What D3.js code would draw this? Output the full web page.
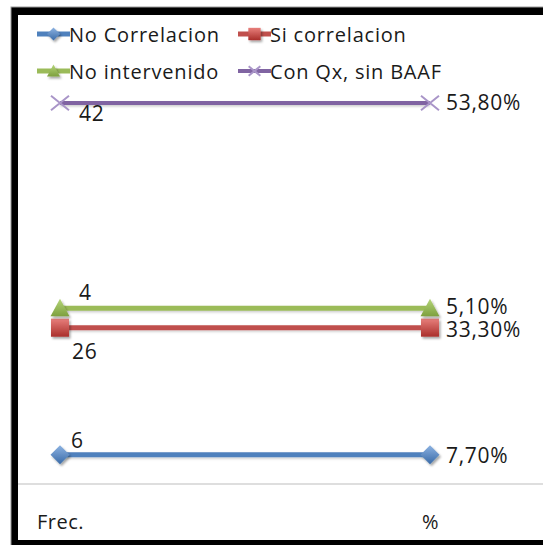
<!DOCTYPE html>
<html>
<head>
<meta charset="utf-8">
<script src="https://cdn.jsdelivr.net/npm/d3@7"></script>
<style>
  html, body { margin: 0; padding: 0; background: #fff; }
  svg { display: block; }
  text { font-family: "Open Sans", sans-serif; fill: #1a1a1a; }
</style>
</head>
<body>
<svg id="chart" width="543" height="545"></svg>
<script>
// ---- data ----
const categories = ["Frec.", "%"];
const seriesNames = ["No Correlacion", "Si correlacion", "No intervenido", "Con Qx, sin BAAF"];
const frecValues = [6, 26, 4, 42];
const pctValues = [7.7, 33.3, 5.1, 53.8];
const frecLabels = ["6", "26", "4", "42"];
const pctLabels = ["7,70%", "33,30%", "5,10%", "53,80%"];

// ---- styles ----
const colors = ["#4F81BD", "#C0504D", "#9BBB59", "#8064A2"];
const markerTypes = ["diamond", "square", "triangle", "x"];
const lineWidths = [5, 5, 5, 4];
// label offsets relative to point [dx, dy] for Frec. and % columns
const frecOffsets = [[11, -7], [12, 31], [19, -8], [19, 18]];
const pctOffsets = [[16, 8], [16, 9], [16, 6], [16, 7]];

const W = 543, H = 545;
const svg = d3.select("#chart");
const defs = svg.append("defs");

// shadows
const f = defs.append("filter").attr("id", "shadow").attr("x", "-30%").attr("y", "-30%").attr("width", "180%").attr("height", "180%");
f.append("feDropShadow").attr("dx", 1.5).attr("dy", 2).attr("stdDeviation", 1.2).attr("flood-color", "#000").attr("flood-opacity", 0.35);
const fl = defs.append("filter").attr("id", "lshadow").attr("filterUnits", "userSpaceOnUse")
  .attr("x", 0).attr("y", 0).attr("width", W).attr("height", H);
fl.append("feDropShadow").attr("dx", 0).attr("dy", 1.5).attr("stdDeviation", 1).attr("flood-color", "#000").attr("flood-opacity", 0.2);

const gradStops = [
  ["#8DB3E2", "#3A6BA8"],
  ["#E87F7C", "#A92F2B"],
  ["#B5D67A", "#7EA03E"],
  ["#A48BC4", "#7B5F9E"]
];
gradStops.forEach((s, i) => {
  const g = defs.append("linearGradient").attr("id", "grad" + i).attr("x1", 0).attr("y1", 0).attr("x2", 0).attr("y2", 1);
  g.append("stop").attr("offset", "0%").attr("stop-color", s[0]);
  g.append("stop").attr("offset", "100%").attr("stop-color", s[1]);
});

// frame
svg.append("rect").attr("x", 11).attr("y", 7).attr("width", 600).attr("height", 600).attr("fill", "#000").attr("stroke", "#999").attr("stroke-width", 1);
svg.append("rect").attr("x", 18).attr("y", 15).attr("width", 600).attr("height", 525).attr("fill", "#fff");

// ---- scales ----
const table = categories.map((c, ci) => {
  const row = { cat: c };
  seriesNames.forEach((s, si) => { row[s] = ci === 0 ? frecValues[si] : pctValues[si]; });
  return row;
});
const stacked = d3.stack().keys(seriesNames).offset(d3.stackOffsetExpand)(table);

const x = d3.scalePoint().domain(categories).range([60, 430]);
const y = d3.scaleLinear().domain([0, 1]).range([484, 103]);

// axis
svg.append("line").attr("x1", 18).attr("x2", W).attr("y1", y(0)).attr("y2", y(0))
  .attr("stroke", "#BDBDBD").attr("stroke-width", 1.2);
const axisG = svg.append("g").attr("transform", `translate(0,${y(0)})`)
  .call(d3.axisBottom(x).tickSize(0).tickPadding(31));
axisG.select(".domain").remove();
axisG.selectAll("text").style("font-family", '"Open Sans", sans-serif').style("font-size", "20px")
  .style("letter-spacing", "0.5px").attr("fill", "#1a1a1a");

// marker drawer
function drawMarker(g, type, i, cx, cy, size) {
  const s = size / 2;
  if (type === "diamond") {
    g.append("path").attr("d", `M${cx},${cy - s}L${cx + s},${cy}L${cx},${cy + s}L${cx - s},${cy}Z`)
      .attr("fill", `url(#grad${i})`).attr("filter", "url(#shadow)");
  } else if (type === "square") {
    const h = s * 0.95;
    g.append("rect").attr("x", cx - h).attr("y", cy - h).attr("width", 2 * h).attr("height", 2 * h)
      .attr("fill", `url(#grad${i})`).attr("filter", "url(#shadow)");
  } else if (type === "triangle") {
    g.append("path").attr("d", `M${cx},${cy - s}L${cx + s},${cy + s * 0.85}L${cx - s},${cy + s * 0.85}Z`)
      .attr("fill", `url(#grad${i})`).attr("filter", "url(#shadow)");
  } else {
    const h = s * 0.9;
    g.append("path").attr("d", `M${cx - h},${cy - h * 0.8}L${cx + h},${cy + h * 0.8}M${cx - h},${cy + h * 0.8}L${cx + h},${cy - h * 0.8}`)
      .attr("stroke", "#A995C8").attr("stroke-width", 2).attr("fill", "none");
  }
}

// ---- series ----
const line = d3.line().x(d => x(d.data.cat)).y(d => y(d[1]));
stacked.forEach((ser, i) => {
  const g = svg.append("g");
  g.append("path").datum(ser).attr("d", line).attr("fill", "none")
    .attr("stroke", colors[i]).attr("stroke-width", lineWidths[i]).attr("filter", "url(#lshadow)");
  ser.forEach((d, ci) => {
    const cx = x(d.data.cat), cy = y(d[1]);
    drawMarker(g, markerTypes[i], i, cx, cy, i === 3 ? 20 : 19);
    const off = ci === 0 ? frecOffsets[i] : pctOffsets[i];
    g.append("text").attr("x", cx + off[0]).attr("y", cy + off[1])
      .style("font-size", "21px").style("letter-spacing", "0.7px")
      .text(ci === 0 ? frecLabels[i] : pctLabels[i]);
  });
});

// ---- legend ----
const legendPos = [[37, 34], [238, 34], [37, 71], [238, 71]];
seriesNames.forEach((name, i) => {
  const [lx, ly] = legendPos[i];
  const g = svg.append("g");
  g.append("line").attr("x1", lx).attr("x2", lx + 33).attr("y1", ly).attr("y2", ly)
    .attr("stroke", colors[i]).attr("stroke-width", lineWidths[i]);
  drawMarker(g, markerTypes[i], i, lx + 16.5, ly, 13);
  g.append("text").attr("x", lx + 32).attr("y", ly + 7.5).style("font-size", "20px")
    .style("letter-spacing", "0.8px").text(name);
});
</script>
</body>
</html>
